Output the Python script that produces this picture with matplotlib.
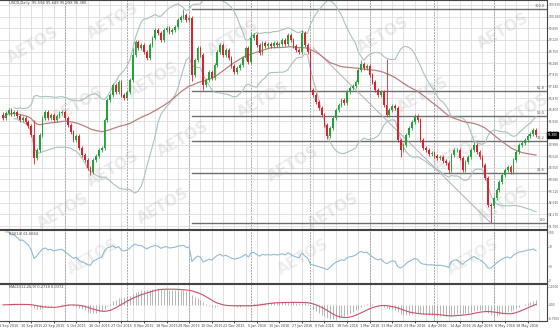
import matplotlib
matplotlib.use("Agg")
import matplotlib.pyplot as plt
import numpy as np
import pandas as pd

# USDX daily closes, 1 Sep 2015 .. late May 2016
closes = [96.06, 96.27, 96.39, 96.23, 96.31, 96.15, 95.98, 96.06, 95.90, 95.74,
          95.38, 94.45, 94.77, 95.38, 96.06, 96.31, 96.06, 96.19, 95.98, 96.15,
          96.27, 96.31, 96.06, 95.78, 95.50, 95.18, 95.34, 94.85, 94.57, 94.37,
          94.04, 93.88, 94.37, 94.53, 94.77, 94.85, 95.98, 96.79, 96.99, 97.40,
          97.12, 97.52, 96.99, 96.87, 97.12, 97.60, 98.61, 99.13, 98.89, 99.01,
          98.73, 98.49, 99.01, 99.30, 99.62, 99.50, 99.22, 99.62, 99.70, 99.54,
          99.62, 99.74, 100.02, 100.14, 100.23, 100.02, 100.10, 97.80, 98.41, 98.89,
          98.61, 97.40, 97.60, 97.92, 97.68, 98.20, 98.73, 99.01, 98.61, 98.81,
          98.49, 98.17, 97.92, 98.09, 98.20, 98.49, 98.89, 98.33, 99.30, 99.42,
          99.01, 98.69, 99.09, 98.97, 99.05, 98.97, 99.09, 99.01, 99.05, 99.22,
          99.05, 99.42, 99.22, 98.97, 98.81, 98.73, 99.50, 99.01, 98.73, 97.20,
          96.99, 96.71, 96.47, 96.19, 95.78, 95.34, 95.66, 96.06, 96.39, 96.59,
          96.79, 96.67, 97.12, 97.28, 97.36, 97.52, 98.00, 98.25, 98.09, 98.17,
          97.80, 97.52, 97.20, 96.99, 97.12, 96.59, 96.19, 96.39, 96.55, 96.47,
          95.18, 94.77, 94.97, 95.38, 95.66, 95.90, 96.15, 95.98, 95.18, 94.85,
          94.77, 94.61, 94.65, 94.53, 94.45, 94.49, 94.33, 94.25, 93.96, 94.57,
          94.77, 94.77, 94.45, 93.96, 94.29, 94.49, 94.77, 94.97, 94.69, 94.49,
          94.17, 93.64, 92.55, 92.51, 92.83, 93.16, 93.48, 93.76, 93.96, 94.09,
          93.88, 94.37, 94.69, 94.97, 95.05, 95.18, 95.34, 95.42, 95.58, 95.38]
first_open = 96.20
# notable wicks (bar index -> price)
high_marks = {11: 96.0, 46: 98.9, 64: 100.47, 67: 100.2, 88: 99.55, 106: 99.6,
              127: 98.4, 136: 98.45, 167: 95.1}
low_marks = {11: 94.2, 31: 93.75, 67: 97.55, 71: 97.2, 115: 95.2, 141: 94.5,
             158: 93.85, 173: 91.82}

date_labels = ["1 Sep 2015", "10 Sep 2015", "22 Sep 2015", "5 Oct 2015", "16 Oct 2015",
               "27 Oct 2015", "6 Nov 2015", "18 Nov 2015", "28 Nov 2015", "10 Dec 2015",
               "22 Dec 2015", "5 Jan 2016", "15 Jan 2016", "27 Jan 2016", "8 Feb 2016",
               "18 Feb 2016", "1 Mar 2016", "11 Mar 2016", "23 Mar 2016", "4 Apr 2016",
               "14 Apr 2016", "26 Apr 2016", "6 May 2016", "18 May 2016"]
month_starts = [22, 44, 66, 88, 109, 130, 153, 174]

fib_high = 100.47
fib_low = 91.82
fib_levels = [0.0, 23.6, 38.2, 50.0, 61.8, 100.0]

price_ticks = [91.700, 92.170, 92.640, 93.110, 93.580, 94.050, 94.520, 94.990, 95.460,
               95.930, 96.400, 96.870, 97.340, 97.810, 98.280, 98.750, 99.220, 99.690,
               100.160, 100.630]

c = pd.Series(closes)
n = len(c)
o = pd.Series([first_open] + closes[:-1])
hi = np.maximum(o, c) + 0.09
lo = np.minimum(o, c) - 0.09
for k, v in high_marks.items():
    hi[k] = v
for k, v in low_marks.items():
    lo[k] = v

ma = c.rolling(50, min_periods=1).mean()
mid = c.rolling(20, min_periods=5).mean()
sd = c.rolling(20, min_periods=5).std(ddof=0)
bb_up = mid + 2 * sd
bb_dn = mid - 2 * sd

d = c.diff()
up = d.clip(lower=0).ewm(alpha=1 / 14, adjust=False).mean()
dn = (-d.clip(upper=0)).ewm(alpha=1 / 14, adjust=False).mean()
rsi = 100 - 100 / (1 + up / dn)

macd = c.ewm(span=12, adjust=False).mean() - c.ewm(span=26, adjust=False).mean()
signal = macd.rolling(9, min_periods=1).mean()

W, H = 560, 331
fig = plt.figure(figsize=(W / 100, H / 100), dpi=100)
fig.patch.set_facecolor("white")
ax = fig.add_axes([0, (H - 229) / H, 547 / W, 229 / H])
ax_rsi = fig.add_axes([0, (H - 283) / H, 547 / W, 53 / H])
ax_macd = fig.add_axes([0, (H - 321) / H, 547 / W, 37 / H])

x = np.arange(n)
xmin, xmax = -1.06, 192.9
grid_c = "#dcdcdc"
for a in (ax, ax_rsi, ax_macd):
    a.set_xlim(xmin, xmax)
    for gx in np.arange(2, 193, 4):
        a.axvline(gx, color=grid_c, lw=0.6, zorder=0)
    for m in month_starts:
        a.axvline(m, color="#a8a8a8", lw=0.7, ls=(0, (2, 1)), zorder=0)
    a.set_xticks([])
    a.yaxis.tick_right()
    a.tick_params(axis="y", labelsize=2.1, length=1.0, pad=0.5, colors="#555555", width=0.5)
    for s in a.spines.values():
        s.set_color("#444444")
        s.set_linewidth(0.8)
    a.spines["left"].set_visible(False)

# main price panel
ax.set_ylim(91.58, 100.832)
ax.set_yticks(price_ticks)
ax.set_yticklabels(["%.3f" % t for t in price_ticks])
for t in price_ticks:
    ax.axhline(t, color=grid_c, lw=0.6, zorder=0)

ax.plot(x, bb_up, color="#a9c2bd", lw=0.8, zorder=2)
ax.plot(x, bb_dn, color="#a9c2bd", lw=0.8, zorder=2)
ax.plot(x, ma, color="#b88080", lw=0.9, zorder=2)

for lv in fib_levels:
    p = fib_low + (fib_high - fib_low) * lv / 100
    ax.plot([67, xmax], [p, p], color="#6e6e6e", lw=1.0, zorder=1)
    ax.text(192.2, p + 0.04, "%.1f" % lv, fontsize=2.5, color="#555555", ha="right",
            va="bottom")

# channel line
ax.plot([110, 173], [98.9, 91.82], color="#b0b0b0", lw=0.7, zorder=1)

cols = np.where(c >= o, "#22a33a", "#e0202a")
ax.vlines(x, lo, hi, colors=cols, lw=0.6, zorder=3)
ax.bar(x, (c - o).abs().clip(lower=0.02), bottom=np.minimum(o, c), width=0.62,
       color=cols, zorder=4)

last = closes[-1]
ax.text(xmax + 0.3, last, "%.3f" % last, fontsize=2.1, color="white", va="center",
        ha="left", bbox=dict(boxstyle="square,pad=0.2", fc="black", ec="black"),
        clip_on=False, zorder=6)
ax.text(2, 100.78, "USDX,Daily  95.594 95.649 95.298 95.380", fontsize=2.6,
        color="#444444", va="top")

# watermarks
for wx, wy in [(30, 99.0), (75, 96.6), (110, 94.0), (60, 92.3), (110, 100.0), (150, 97.6),
               (180, 95.2), (160, 92.5), (230, 99.3), (260, 96.8), (290, 94.2),
               (330, 92.3), (380, 99.4), (420, 97.0), (455, 94.6), (500, 92.6),
               (500, 99.6), (520, 96.3)]:
    ax.text(wx / 2.82, wy, "AETOS", fontsize=11, color="#9a9a9a", alpha=0.2, rotation=30,
            ha="center", va="center", fontweight="bold", zorder=1)

# RSI
ax_rsi.set_ylim(-4.1, 104.1)
ax_rsi.set_yticks([0, 30, 70, 100])
ax_rsi.set_yticklabels(["0", "30", "70", "100"])
ax_rsi.plot(x, rsi, color="#8fbcd2", lw=0.8)
ax_rsi.text(2, 101, "RSI(14) %.4f" % rsi.iloc[-1], fontsize=2.6, color="#444444", va="top")
for wx in (90, 300, 470):
    ax_rsi.text(wx / 2.82, 50, "AETOS", fontsize=11, color="#9a9a9a", alpha=0.16,
                rotation=30, ha="center", va="center", fontweight="bold")

# MACD
ax_macd.set_ylim(-0.92, 1.2)
ax_macd.set_yticks([-0.75, 0.0, 1.03])
ax_macd.set_yticklabels(["-0.7500", "0.00", "1.0300"])
ax_macd.vlines(x, 0, macd, colors="#9a9a9a", lw=0.5)
ax_macd.plot(x, signal, color="#c8506a", lw=0.8)
ax_macd.text(2, 1.12, "MACD(12,26,9) %.4f %.4f" % (macd.iloc[-1], signal.iloc[-1]),
             fontsize=2.6, color="#444444", va="top")
ax_macd.set_xticks(np.arange(0, 8 * len(date_labels), 8) + 2)
ax_macd.set_xticklabels(date_labels, fontsize=2.4, color="#444444")
ax_macd.tick_params(axis="x", length=1.2, pad=1, width=0.5)

fig.savefig("out.png", dpi=100, facecolor="white")
